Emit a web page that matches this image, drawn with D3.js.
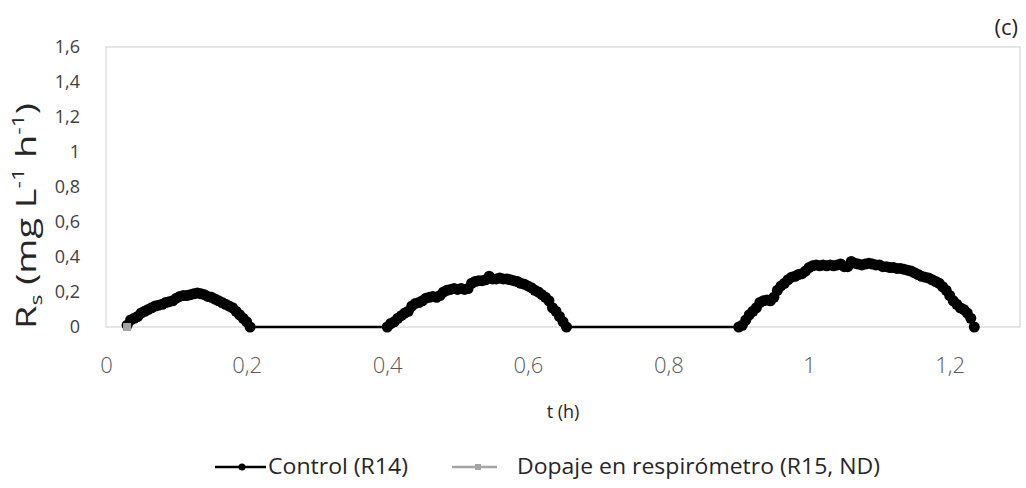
<!DOCTYPE html>
<html><head><meta charset="utf-8">
<script src="https://cdn.jsdelivr.net/npm/d3@7"></script>
<style>body{margin:0;background:#fff}svg{display:block}text{font-family:"Open Sans",sans-serif}</style>
</head><body><svg id="c" width="1026" height="488"></svg>
<script>
// ---- data ----
const hump1T = [0.030,0.035,0.040,0.045,0.050,0.055,0.060,0.065,0.070,0.075,0.080,0.085,0.090,0.095,0.100,0.105,0.110,0.115,0.120,0.125,0.130,0.135,0.140,0.145,0.150,0.155,0.160,0.165,0.170,0.175,0.180,0.185,0.190,0.195,0.200,0.205];
const hump1R = [0.01,0.04,0.05,0.06,0.08,0.09,0.10,0.11,0.12,0.125,0.13,0.14,0.145,0.15,0.165,0.175,0.18,0.18,0.185,0.19,0.195,0.19,0.185,0.175,0.17,0.16,0.15,0.14,0.13,0.12,0.11,0.09,0.07,0.05,0.03,0.00];
const hump2T = [0.400,0.405,0.410,0.415,0.420,0.425,0.430,0.435,0.440,0.445,0.450,0.455,0.460,0.465,0.470,0.475,0.480,0.485,0.490,0.495,0.500,0.505,0.510,0.515,0.520,0.525,0.530,0.535,0.540,0.545,0.550,0.555,0.560,0.565,0.570,0.575,0.580,0.585,0.590,0.595,0.600,0.605,0.610,0.615,0.620,0.625,0.630,0.635,0.640,0.645,0.650,0.655];
const hump2R = [0.00,0.02,0.03,0.05,0.065,0.08,0.09,0.12,0.135,0.14,0.15,0.165,0.17,0.175,0.17,0.18,0.20,0.21,0.215,0.22,0.215,0.22,0.215,0.22,0.25,0.26,0.265,0.265,0.27,0.29,0.275,0.275,0.28,0.275,0.275,0.27,0.265,0.26,0.25,0.245,0.235,0.225,0.21,0.20,0.185,0.17,0.15,0.11,0.09,0.06,0.03,0.00];
const hump3T = [0.900,0.905,0.910,0.915,0.920,0.925,0.930,0.935,0.940,0.945,0.950,0.955,0.960,0.965,0.970,0.975,0.980,0.985,0.990,0.995,1.000,1.005,1.010,1.015,1.020,1.025,1.030,1.035,1.040,1.045,1.050,1.055,1.060,1.065,1.070,1.075,1.080,1.085,1.090,1.095,1.100,1.105,1.110,1.115,1.120,1.125,1.130,1.135,1.140,1.145,1.150,1.155,1.160,1.165,1.170,1.175,1.180,1.185,1.190,1.195,1.200,1.205,1.210,1.215,1.220,1.225,1.230,1.235];
const hump3R = [0.00,0.01,0.04,0.07,0.09,0.11,0.14,0.15,0.155,0.15,0.17,0.21,0.235,0.25,0.27,0.285,0.29,0.30,0.305,0.32,0.34,0.35,0.355,0.35,0.355,0.35,0.355,0.35,0.355,0.36,0.345,0.345,0.375,0.365,0.36,0.355,0.36,0.365,0.36,0.355,0.355,0.345,0.345,0.34,0.34,0.335,0.335,0.33,0.325,0.32,0.31,0.30,0.29,0.285,0.28,0.27,0.26,0.25,0.23,0.21,0.18,0.15,0.13,0.11,0.10,0.08,0.05,0.00];
const dopajeT = [0.030];
const dopajeR = [0.00];
const xTicks = [0,0.2,0.4,0.6,0.8,1,1.2];
const yTicks = [0,0.2,0.4,0.6,0.8,1,1.2,1.4,1.6];
const seriesNames = ["Control (R14)","Dopaje en respirómetro (R15, ND)"];

// ---- build ----
const controlT = hump1T.concat(hump2T, hump3T);
const controlR = hump1R.concat(hump2R, hump3R);
const control = controlT.map((t,i)=>({t, r: controlR[i]}));
const dopaje = dopajeT.map((t,i)=>({t, r: dopajeR[i]}));

const svg = d3.select("#c");
const L=106, R=1020, T=47, B=327;
const x = d3.scaleLinear().domain([0,1.3]).range([L,R]);
const y = d3.scaleLinear().domain([0,1.6]).range([B,T]);
const fmt = d => String(d).replace(".", ",");

svg.append("rect").attr("x",L).attr("y",T).attr("width",R-L).attr("height",B-T)
  .attr("fill","none").attr("stroke","#d9d9d9").attr("stroke-width",1.3);

// y axis labels
const ya = svg.append("g").attr("transform",`translate(${L},0)`)
  .call(d3.axisLeft(y).tickValues(yTicks).tickFormat(fmt).tickSize(0).tickPadding(26));
ya.select(".domain").remove();
ya.selectAll("text").attr("font-size",18).attr("fill","#404040").style("font-family","'Open Sans',sans-serif");

const xa = svg.append("g").attr("transform",`translate(0,${B})`)
  .call(d3.axisBottom(x).tickValues(xTicks).tickFormat(fmt).tickSize(0).tickPadding(30));
xa.select(".domain").remove();
xa.selectAll("text").attr("font-size",22).attr("font-weight",300).attr("fill","#595959").style("font-family","'Open Sans',sans-serif");

// axis titles
svg.append("text").attr("x",563).attr("y",418).attr("text-anchor","middle")
  .attr("font-size",18).attr("fill","#262626").text("t (h)");
const yt = svg.append("text").attr("transform","translate(36,216) rotate(-90)")
  .attr("text-anchor","middle").attr("font-size",28).attr("fill","#262626")
  .attr("textLength",226).attr("lengthAdjust","spacingAndGlyphs");
yt.append("tspan").text("R");
yt.append("tspan").attr("font-size",17).attr("dy",6).text("s");
yt.append("tspan").attr("dy",-6).text(" (mg L");
yt.append("tspan").attr("font-size",17).attr("dy",-12).text("-1");
yt.append("tspan").attr("dy",12).text(" h");
yt.append("tspan").attr("font-size",17).attr("dy",-12).text("-1");
yt.append("tspan").attr("dy",12).text(")");

svg.append("text").attr("x",1018).attr("y",35).attr("text-anchor","end")
  .attr("font-size",22).attr("fill","#262626").text("(c)");

// series
const line = d3.line().x(d=>x(d.t)).y(d=>y(d.r));
svg.append("path").datum(control).attr("d",line).attr("fill","none")
  .attr("stroke","#000").attr("stroke-width",2.5);
svg.append("g").selectAll("circle").data(control).join("circle")
  .attr("cx",d=>x(d.t)).attr("cy",d=>y(d.r)).attr("r",5.5).attr("fill","#000");
svg.append("path").datum(dopaje).attr("d",line).attr("fill","none")
  .attr("stroke","#a5a5a5").attr("stroke-width",2.5);
svg.append("g").selectAll("rect").data(dopaje).join("rect")
  .attr("x",d=>x(d.t)-4).attr("y",d=>y(d.r)-4).attr("width",8).attr("height",8).attr("fill","#a5a5a5");

// legend
const lg = svg.append("g");
const ly = 467;
lg.append("line").attr("x1",215).attr("x2",266).attr("y1",ly).attr("y2",ly).attr("stroke","#000").attr("stroke-width",2.5);
lg.append("circle").attr("cx",242).attr("cy",ly).attr("r",3.5).attr("fill","#000");
lg.append("text").attr("x",268).attr("y",ly+7).attr("font-size",22).attr("fill","#262626")
  .attr("textLength",140).attr("lengthAdjust","spacingAndGlyphs").text(seriesNames[0]);
lg.append("line").attr("x1",452).attr("x2",497).attr("y1",ly).attr("y2",ly).attr("stroke","#a5a5a5").attr("stroke-width",2.5);
lg.append("rect").attr("x",475).attr("y",ly-3).attr("width",6).attr("height",6).attr("fill","#a5a5a5");
lg.append("text").attr("x",517).attr("y",ly+7).attr("font-size",22).attr("fill","#262626")
  .attr("textLength",363).attr("lengthAdjust","spacingAndGlyphs").text(seriesNames[1]);
</script></body></html>
